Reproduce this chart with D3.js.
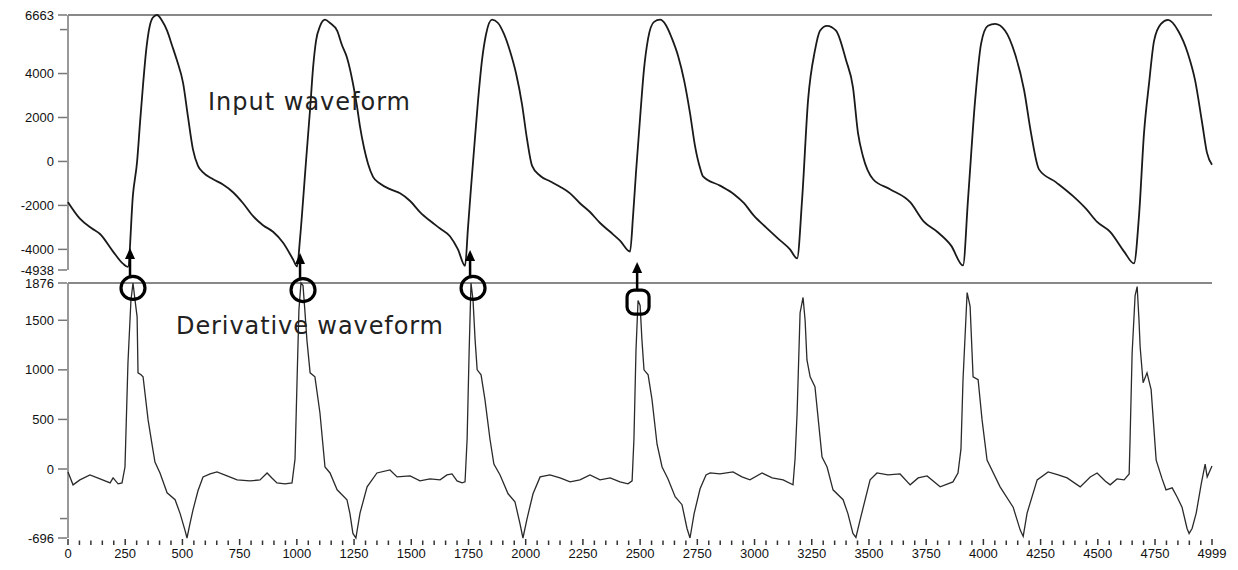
<!DOCTYPE html>
<html>
<head>
<meta charset="utf-8">
<script src="https://cdn.jsdelivr.net/npm/d3@7"></script>
<style>
  body { margin: 0; background: #fff; }
  svg { display: block; }
  .tick-label { font-family: "Liberation Sans Narrow", "Liberation Sans", Arial, sans-serif; font-size: 13px; fill: #111; }
  .title { font-family: "DejaVu Sans", "Open Sans", sans-serif; font-size: 24px; fill: #222; }
</style>
</head>
<body>
<svg id="chart" width="1238" height="570"></svg>
<script>
// input waveform (sample index, value)
const inputSamples = [0, 52, 105, 140, 197, 240, 262, 284, 302, 315, 328, 341, 354, 371, 389, 411, 433, 454, 476, 503, 524, 546, 568, 590, 634, 677, 721, 765, 808, 852, 896, 940, 983, 1001,
  1014, 1027, 1040, 1058, 1071, 1084, 1101, 1123, 1145, 1176, 1197, 1219, 1245, 1263, 1276, 1294, 1311, 1333, 1363, 1407, 1451, 1495, 1538, 1582, 1626, 1669, 1704, 1735,
  1748, 1761, 1774, 1792, 1809, 1827, 1853, 1879, 1905, 1932, 1958, 1984, 2006, 2028, 2063, 2106, 2150, 2194, 2237, 2281, 2325, 2369, 2412, 2456,
  2469, 2482, 2500, 2517, 2535, 2561, 2587, 2613, 2639, 2666, 2692, 2718, 2740, 2762, 2775, 2849, 2910, 2954, 2998, 3050, 3103, 3155, 3186,
  3208, 3234, 3264, 3286, 3317, 3356, 3400, 3430, 3452, 3474, 3518, 3592, 3680, 3741, 3798, 3859, 3911,
  3933, 3964, 3990, 4020, 4051, 4095, 4138, 4178, 4208, 4243, 4318, 4392, 4449, 4497, 4554, 4615, 4658,
  4680, 4702, 4724, 4746, 4776, 4807, 4851, 4894, 4925, 4956, 4977, 4999];
const inputValues = [-1850, -2600, -3050, -3300, -4100, -4650, -4800, -1500, 0, 1800, 3500, 5000, 6000, 6550, 6663, 6400, 5950, 5300, 4600, 3560, 2050, 550, -200, -500, -810, -1050, -1400, -1900, -2480, -2900, -3200, -3700, -4450, -4780,
  -3500, -1800, 0, 2400, 4280, 5500, 6150, 6450, 6300, 5950, 5300, 4730, 3560, 2500, 1580, 600, -100, -700, -1000, -1260, -1450, -1800, -2300, -2700, -3050, -3400, -4000, -4750,
  -3000, -1200, 500, 2800, 4600, 5800, 6450, 6300, 5800, 5000, 4000, 2600, 1000, -200, -650, -900, -1150, -1450, -1900, -2300, -2800, -3200, -3600, -4100,
  -2500, -500, 2000, 4200, 5600, 6350, 6450, 6200, 5600, 4800, 3700, 2200, 700, -300, -680, -1100, -1490, -1900, -2480, -3000, -3510, -4000, -4410,
  -1700, 2800, 5050, 5950, 6170, 5950, 4600, 3380, 1300, 225, -810, -1260, -1850, -2750, -3200, -3830, -4730,
  -1700, 2800, 5360, 6170, 6260, 5950, 4900, 3240, 1300, -360, -950, -1580, -2160, -2750, -3200, -4100, -4640,
  -2480, 1300, 3560, 5500, 6260, 6440, 5950, 4900, 3700, 1750, 400, -150];

// derivative waveform (sample index, value)
const derivSamples = [0, 22, 52, 96, 140, 184, 197, 219, 236, 249, 262, 275, 284, 293, 302, 306, 319, 328, 350, 367, 380, 402, 433, 468, 490, 511, 520, 533, 546, 568, 590, 621, 651, 695, 739, 795, 839, 870, 891, 913, 948, 979,
  992, 1001, 1009, 1018, 1027, 1035, 1044, 1058, 1079, 1101, 1123, 1145, 1176, 1219, 1232, 1245, 1258, 1276, 1307, 1350, 1407, 1438, 1495, 1538, 1582, 1626, 1656, 1678, 1700, 1722,
  1735, 1744, 1753, 1761, 1770, 1779, 1788, 1805, 1822, 1844, 1861, 1888, 1923, 1953, 1975, 1988, 2006, 2032, 2063, 2106, 2150, 2194, 2237, 2281, 2325, 2369, 2412, 2447, 2465,
  2473, 2482, 2491, 2500, 2508, 2517, 2535, 2552, 2574, 2596, 2622, 2653, 2683, 2705, 2718, 2736, 2762, 2788, 2806, 2849, 2906, 2945, 2980, 3033, 3077, 3125, 3168,
  3177, 3186, 3199, 3212, 3221, 3229, 3243, 3264, 3295, 3317, 3343, 3387, 3408, 3430, 3443, 3461, 3505, 3535, 3583, 3636, 3680, 3715, 3754, 3811, 3867, 3889,
  3902, 3911, 3929, 3942, 3955, 3977, 3994, 4016, 4073, 4130, 4161, 4174, 4191, 4235, 4283, 4327, 4366, 4423, 4467, 4497, 4532, 4554, 4584, 4615, 4637,
  4641, 4650, 4663, 4672, 4680, 4685, 4698, 4715, 4733, 4755, 4781, 4798, 4825, 4846, 4868, 4890, 4899, 4912, 4930, 4952, 4969, 4978, 4999];
const derivValues = [-30, -160, -110, -60, -100, -140, -90, -150, -140, 20, 1070, 1700, 1876, 1700, 1535, 970, 950, 930, 495, 250, 70, -40, -240, -310, -450, -616, -696, -550, -414, -220, -80, -50, -30, -70, -110, -120, -110, -40, -90, -140, -150, -140,
  100, 900, 1600, 1876, 1850, 1600, 1300, 970, 930, 565, 20, -40, -210, -310, -450, -650, -696, -445, -180, -40, -10, -80, -70, -120, -100, -110, -60, -50, -120, -140,
  -130, 300, 1200, 1876, 1700, 1300, 1000, 950, 700, 300, 50, -60, -250, -330, -550, -696, -500, -250, -80, -60, -90, -130, -110, -60, -110, -90, -130, -150, -120,
  300, 1200, 1700, 1650, 1300, 1000, 950, 700, 250, 20, -100, -280, -360, -600, -696, -450, -200, -60, -40, -50, -30, -80, -110, -40, -90, -110, -160,
  100, 565, 1575, 1730, 1500, 1100, 930, 830, 120, 20, -210, -310, -450, -650, -690, -515, -110, -40, -60, -50, -160, -90, -70, -180, -130, -40,
  200, 900, 1780, 1640, 930, 900, 500, 90, -180, -385, -616, -680, -445, -110, -30, -60, -90, -180, -80, -40, -120, -160, -100, -110, -50,
  300, 1170, 1750, 1840, 1500, 1230, 870, 970, 800, 90, -100, -210, -190, -280, -385, -600, -650, -600, -445, -150, 50, -80, 30];

const topTicks = [6663, 4000, 2000, 0, -2000, -4000, -4938];
const topMinor = [6000];
const botTicks = [1876, 1500, 1000, 500, 0, -696];
const botMinor = [-500];
const xLabels = [0, 250, 500, 750, 1000, 1250, 1500, 1750, 2000, 2250, 2500, 2750, 3000, 3250, 3500, 3750, 4000, 4250, 4500, 4750, 4999];
const xMinor = d3.range(0, 5000, 50).concat([4999]);

// hand-drawn beat markers
const arrowSamples = [271, 1014, 1757, 2487];
const arrowTips = [-3937, -4165, -4028, -4574];
const markSamples = [284, 1027, 1770, 2491];
const markValues = [1826, 1805, 1826, 1684];
const markShapes = ['circle', 'circle', 'circle', 'square'];

const svg = d3.select('#chart');

const x = d3.scaleLinear().domain([0, 4999]).range([68, 1212]);
const yTop = d3.scaleLinear().domain([-4938, 6663]).range([270, 15]);
const yBot = d3.scaleLinear().domain([-696, 1876]).range([538, 283]);

const AXIS = '#999';

function yAxis(scale, ticks, minor) {
  const g = svg.append('g');
  const [lo, hi] = scale.domain();
  g.append('line')
    .attr('x1', 68).attr('x2', 68)
    .attr('y1', scale(hi)).attr('y2', scale(lo))
    .attr('stroke', AXIS).attr('stroke-width', 2);
  g.selectAll('.major').data(ticks).enter().append('line')
    .attr('x1', 58).attr('x2', 67)
    .attr('y1', d => scale(d)).attr('y2', d => scale(d))
    .attr('stroke', '#777').attr('stroke-width', 1.5);
  g.selectAll('.minor').data(minor).enter().append('line')
    .attr('x1', 60).attr('x2', 67)
    .attr('y1', d => scale(d)).attr('y2', d => scale(d))
    .attr('stroke', '#777').attr('stroke-width', 1.5);
  g.selectAll('text').data(ticks).enter().append('text')
    .attr('class', 'tick-label')
    .attr('x', 54).attr('y', d => scale(d))
    .attr('dy', '0.35em')
    .attr('text-anchor', 'end')
    .text(d => d);
  // full width frame line at the top of each panel
  g.append('line')
    .attr('x1', 68).attr('x2', 1212)
    .attr('y1', scale(hi)).attr('y2', scale(hi))
    .attr('stroke', '#888').attr('stroke-width', 2);
}

yAxis(yTop, topTicks, topMinor);
yAxis(yBot, botTicks, botMinor);

// dotted x axis
const xg = svg.append('g');
xg.selectAll('line').data(xMinor).enter().append('line')
  .attr('x1', d => x(d)).attr('x2', d => x(d))
  .attr('y1', d => (d % 250 === 0 || d === 4999) ? 539 : 540.5)
  .attr('y2', 545)
  .attr('stroke', '#333').attr('stroke-width', 1.5);
xg.selectAll('text').data(xLabels).enter().append('text')
  .attr('class', 'tick-label')
  .attr('x', d => x(d)).attr('y', 558)
  .attr('text-anchor', 'middle')
  .text(d => d);

const inputData = inputSamples.map((s, i) => [s, inputValues[i]]);
const derivData = derivSamples.map((s, i) => [s, derivValues[i]]);

svg.append('path')
  .datum(inputData)
  .attr('fill', 'none')
  .attr('stroke', '#1a1a1a')
  .attr('stroke-width', 1.8)
  .attr('d', d3.line().x(d => x(d[0])).y(d => yTop(d[1])).curve(d3.curveMonotoneX));

svg.append('path')
  .datum(derivData)
  .attr('fill', 'none')
  .attr('stroke', '#2a2a2a')
  .attr('stroke-width', 1.3)
  .attr('d', d3.line().x(d => x(d[0])).y(d => yBot(d[1])));

svg.append('text').attr('class', 'title')
  .attr('x', 208).attr('y', 110)
  .attr('textLength', 202)
  .text('Input waveform');
svg.append('text').attr('class', 'title')
  .attr('x', 176).attr('y', 334)
  .attr('textLength', 267)
  .text('Derivative waveform');

// markers: arrows + circles
const marks = svg.append('g');
markShapes.forEach((shape, i) => {
  const cx = x(markSamples[i]);
  const cy = yBot(markValues[i]);
  let top;
  if (shape === 'circle') {
    marks.append('ellipse')
      .attr('cx', cx).attr('cy', cy).attr('rx', 12).attr('ry', 11.5)
      .attr('fill', 'none').attr('stroke', '#000').attr('stroke-width', 3.2);
    top = cy - 11.5;
  } else {
    marks.append('rect')
      .attr('x', cx - 11).attr('y', cy - 12).attr('width', 22).attr('height', 24)
      .attr('rx', 7)
      .attr('fill', 'none').attr('stroke', '#000').attr('stroke-width', 3.2);
    top = cy - 12;
  }
  const ax = x(arrowSamples[i]);
  const tip = yTop(arrowTips[i]);
  marks.append('line')
    .attr('x1', ax).attr('x2', ax)
    .attr('y1', top).attr('y2', tip + 8)
    .attr('stroke', '#000').attr('stroke-width', 2.5);
  marks.append('path')
    .attr('d', `M${ax},${tip} L${ax - 5},${tip + 11} L${ax + 5},${tip + 11} Z`)
    .attr('fill', '#000');
});
</script>
</body>
</html>
